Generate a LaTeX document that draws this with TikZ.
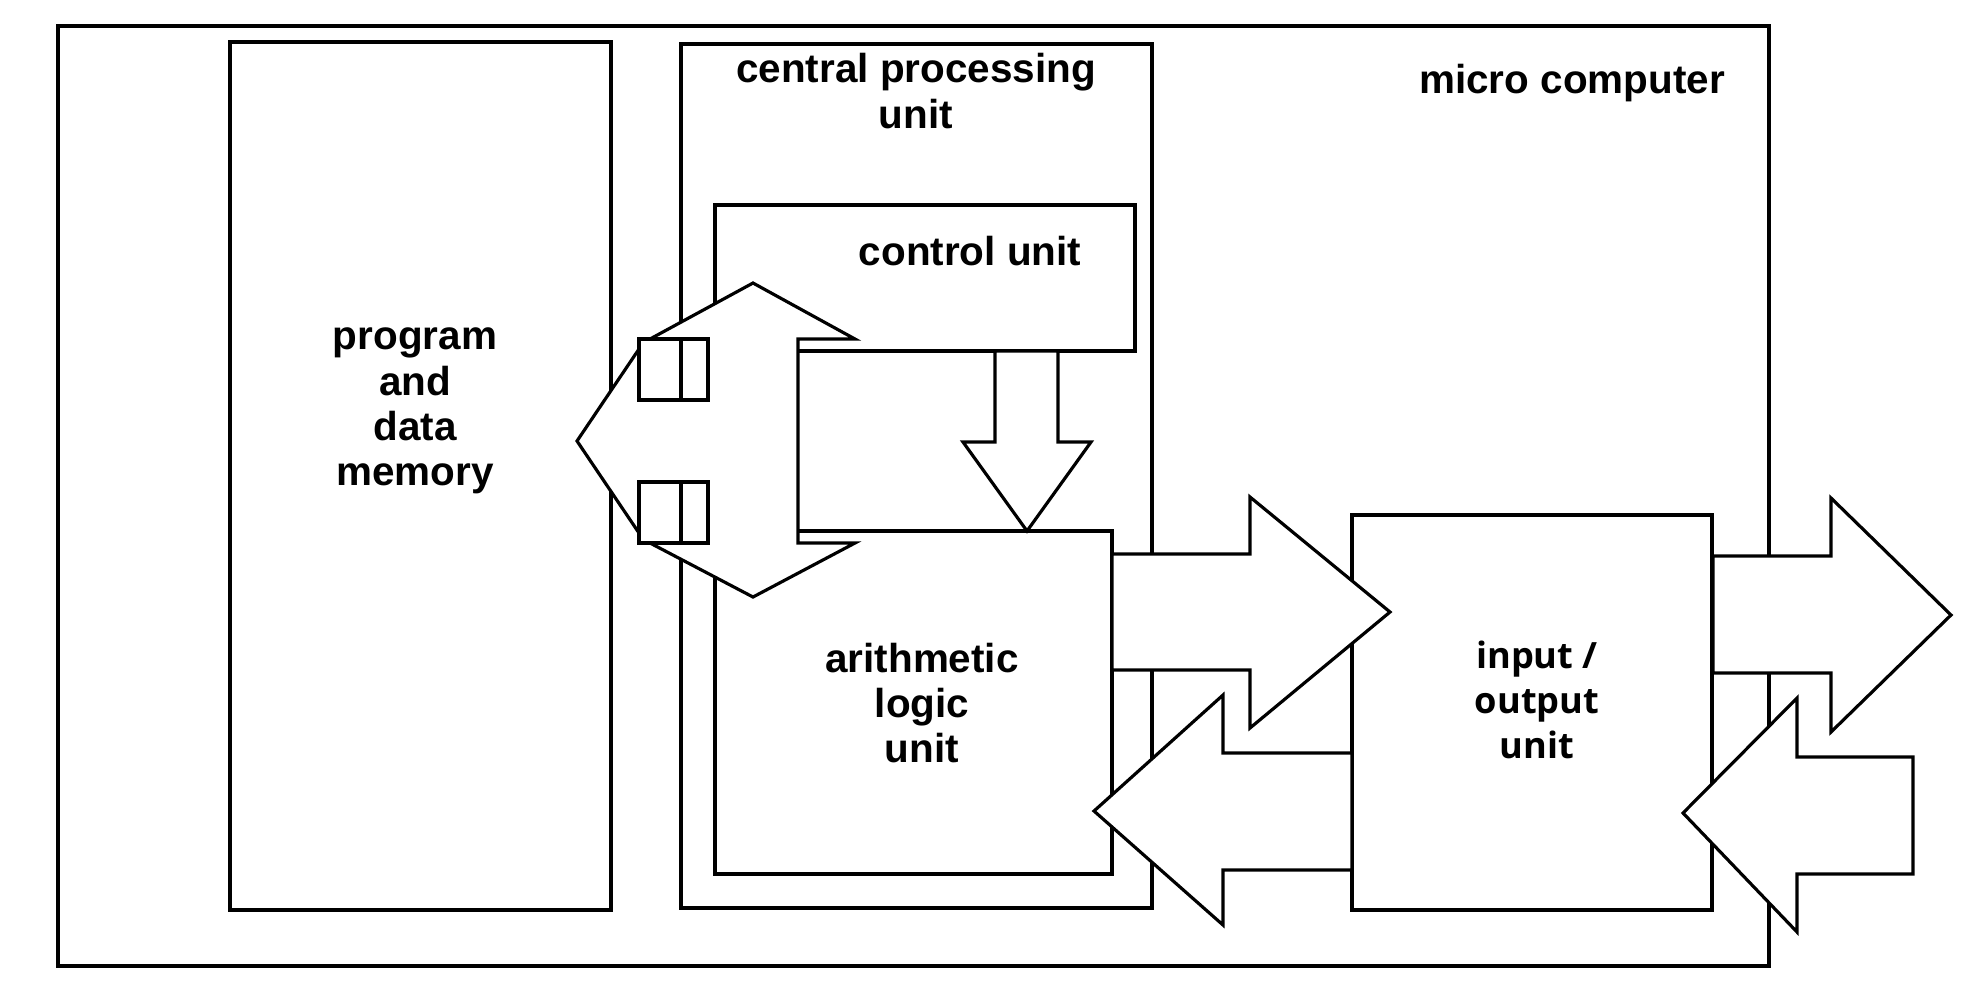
\documentclass[tikz,border=0pt]{standalone}
\usepackage{fontspec}
\setmainfont{Liberation Sans}
\newfontfamily\iofont{Open Sans}
\tikzset{
  box/.style={draw, line width=0.9pt, fill=white},
  blockarrow/.style={draw, line width=0.9pt, fill=white, line join=miter},
  lbl/.style={font=\fontsize{11.5}{12.9}\selectfont\bfseries, align=center, inner sep=0pt},
}
\begin{document}
\begin{tikzpicture}[x=0.01cm, y=-0.01cm]
\useasboundingbox (0,0) rectangle (1970,999);
% boxes
\draw[box] (58,26) rectangle (1769,966);
\draw[box] (230,42) rectangle (611,910);
\draw[box] (681,44) rectangle (1152,908);
\draw[box] (715,205) rectangle (1135,351);
\draw[box] (715,531) rectangle (1112,874);
\draw[box] (1352,515) rectangle (1712,910);
% control unit -> alu
\draw[blockarrow] (995,351) -- (995,442) -- (963,442) -- (1027,531) -- (1091,442) -- (1058,442) -- (1058,351) -- cycle;
% memory bus
\draw[blockarrow] (639,349) -- (577,441) -- (639,533) -- (639,482) -- (708,482) -- (708,543) -- (650,543) -- (753,597) -- (855,543) -- (798,543)
  -- (798,339) -- (855,339) -- (753,283) -- (650,339) -- (708,339) -- (708,400) -- (639,400) -- cycle;
\draw[line width=0.9pt] (639,339) rectangle (708,400) (639,482) rectangle (708,543);
% alu <-> io
\draw[blockarrow] (1112,554) -- (1250,554) -- (1250,497) -- (1390,612) -- (1250,728) -- (1250,670) -- (1112,670) -- cycle;
\draw[blockarrow] (1352,753) -- (1223,753) -- (1223,695) -- (1094,811) -- (1223,925) -- (1223,870) -- (1352,870) -- cycle;
% io <-> outside
\draw[blockarrow] (1713,556) -- (1831,556) -- (1831,498) -- (1951,615) -- (1831,732) -- (1831,673) -- (1713,673) -- cycle;
\draw[blockarrow] (1913,757) -- (1797,757) -- (1797,698) -- (1683,813) -- (1797,932) -- (1797,874) -- (1913,874) -- cycle;
% labels
\node[lbl] (memtext) at (415,411) {program\\and\\data\\memory};
\node[lbl] (cputext) at (916,91) {central processing\\unit};
\node[lbl, anchor=base] (mctext) at (1572,93) {micro computer};
\node[lbl, anchor=base] (cutext) at (970,265) {control unit};
\node[lbl] (alutext) at (922,703) {arithmetic\\logic\\unit};
\node[lbl, font=\iofont\fontsize{10.3}{12.9}\selectfont\bfseries] (iotext) at (1537,700) {input /\\output\\unit};
\end{tikzpicture}
\end{document}
